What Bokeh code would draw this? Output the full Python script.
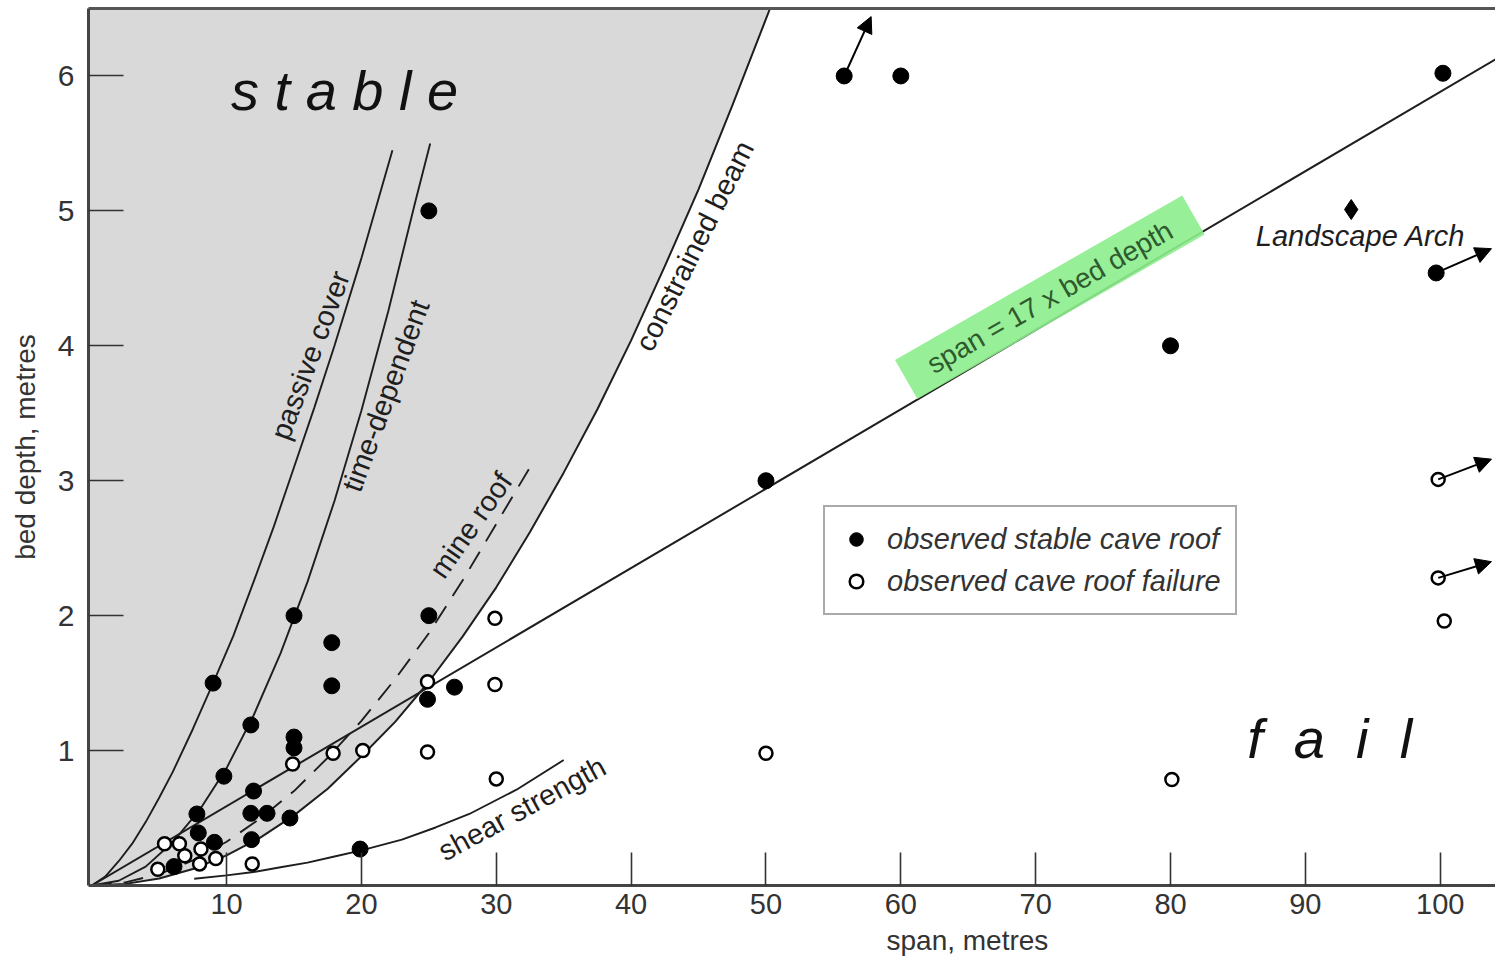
from bokeh.plotting import figure
from bokeh.models import (ColumnDataSource, Range1d, LinearAxis, FixedTicker, Label,
                          Legend, LegendItem, Arrow, NormalHead, Title)
from bokeh.embed import file_html
from bokeh.resources import INLINE

# ---------------- data ----------------
stable_span = [15, 9, 17.8, 17.8, 11.8, 15, 15, 9.8, 12, 7.8, 11.8, 13, 14.7, 7.9, 9.1,
               11.85, 6.1, 19.9, 25, 24.9, 26.9, 25, 50, 55.8, 60, 80, 100.2, 99.7]
stable_depth = [2.0, 1.5, 1.8, 1.48, 1.19, 1.1, 1.02, 0.81, 0.7, 0.53, 0.535, 0.535, 0.5, 0.39, 0.32,
                0.34, 0.14, 0.27, 2.0, 1.38, 1.47, 5.0, 3.0, 6.0, 6.0, 4.0, 6.02, 4.54]

fail_span = [24.9, 14.9, 17.9, 20.1, 24.9, 5.4, 6.5, 6.9, 8.1, 8.0, 9.2, 4.9, 11.9,
             29.9, 29.9, 30.0, 50, 80.1, 99.85, 99.85, 100.3]
fail_depth = [1.51, 0.9, 0.98, 1.0, 0.99, 0.31, 0.31, 0.22, 0.27, 0.16, 0.2, 0.12, 0.16,
              1.98, 1.49, 0.79, 0.98, 0.785, 3.01, 2.28, 1.96]

arch_span = [93.4]
arch_depth = [5.01]

# arrows (points whose values lie beyond the chart)
arrow_x0 = [55.8, 99.7, 99.85, 99.85]
arrow_y0 = [6.0, 4.54, 3.01, 2.28]
arrow_x1 = [57.8, 103.8, 103.8, 103.8]
arrow_y1 = [6.44, 4.72, 3.16, 2.4]

# theoretical curves
passive_x = [0, 1, 2, 3, 4, 5, 6, 7.5, 9, 10.5, 12, 13.5, 15, 16.5, 18, 20, 22.3]
passive_y = [0, 0.066, 0.18, 0.31, 0.47, 0.65, 0.84, 1.16, 1.5, 1.85, 2.25, 2.66, 3.1,
             3.54, 4.0, 4.65, 5.45]

timedep_x = [0, 2, 4, 6, 8, 10, 12, 14, 16, 18, 20, 22, 24, 25.1]
timedep_y = [0, 0.035, 0.14, 0.32, 0.56, 0.87, 1.26, 1.72, 2.25, 2.85, 3.52, 4.26, 5.07, 5.5]

mine_x = [0, 2.5, 5, 7.5, 10, 12.5, 15, 17.5, 20, 22.5, 25, 27.5, 30, 32.5]
mine_y = [0, 0.023, 0.085, 0.186, 0.324, 0.497, 0.70, 0.947, 1.22, 1.53, 1.87, 2.26, 2.68, 3.1]

beam_x = [0, 2.5, 5, 7.5, 10, 12.5, 15, 17.5, 20, 22.5, 25, 27.5, 30, 32.5, 35, 37.5,
          40, 42.5, 45, 47.5, 50.3]
beam_y = [0, 0.012, 0.052, 0.122, 0.223, 0.355, 0.52, 0.717, 0.958, 1.213, 1.51, 1.845,
          2.21, 2.62, 3.06, 3.53, 4.04, 4.59, 5.16, 5.78, 6.5]

shear_x = [7.6, 10, 12, 14, 16, 18, 20, 23, 25.5, 28, 31.5, 35]
shear_y = [0.05, 0.075, 0.1, 0.135, 0.17, 0.215, 0.26, 0.34, 0.43, 0.53, 0.71, 0.93]

span_ratio = 17
span_line_x = [0, 106]
span_line_y = [x / span_ratio for x in span_line_x]

x_ticks = [10, 20, 30, 40, 50, 60, 70, 80, 90, 100]
y_ticks = [1, 2, 3, 4, 5, 6]

FONT = "Liberation Sans"
INK = "#1e1e1e"

# ---------------- figure ----------------
p = figure(width=1495, height=962,
           x_range=Range1d(-0.24, 104.1), y_range=Range1d(0, 6.5),
           output_backend="svg", toolbar_location=None,
           min_border_left=88, min_border_right=0, min_border_top=8, min_border_bottom=77)
p.outline_line_color = None
p.grid.visible = False
p.background_fill_color = "white"
p.border_fill_color = "white"

# axes
for ax in (p.xaxis[0], p.yaxis[0]):
    ax.axis_line_width = 3
    ax.axis_line_color = "#444444"
    ax.major_tick_out = 0
    ax.minor_tick_line_color = None
    ax.major_tick_line_color = "#333333"
    ax.major_tick_line_width = 1.6
    ax.major_label_text_font = FONT
    ax.major_label_text_color = "#333333"

p.xaxis[0].ticker = FixedTicker(ticks=x_ticks)
p.xaxis[0].major_tick_in = 33
p.xaxis[0].major_label_standoff = 8
p.xaxis[0].major_label_text_font_size = "29px"
p.yaxis[0].ticker = FixedTicker(ticks=y_ticks)
p.yaxis[0].major_tick_in = 35
p.yaxis[0].major_label_standoff = 14
p.yaxis[0].major_label_text_font_size = "30px"
p.yaxis[0].axis_label = "bed depth, metres"
p.yaxis[0].axis_label_text_font = FONT
p.yaxis[0].axis_label_text_font_style = "normal"
p.yaxis[0].axis_label_text_font_size = "28px"
p.yaxis[0].axis_label_text_color = "#333333"
p.yaxis[0].axis_label_standoff = 14

top = LinearAxis(ticker=FixedTicker(ticks=[]), axis_line_width=3, axis_line_color="#555555",
                 major_label_text_font_size="0px", major_label_standoff=0,
                 major_tick_in=0, major_tick_out=0, minor_tick_line_color=None)
p.add_layout(top, "above")

p.add_layout(Title(text="span, metres", align="left", offset=798, text_font=FONT,
                   text_font_size="28px", text_font_style="normal", text_color="#333333",
                   standoff=12), "below")

# shaded stable region (left of the constrained-beam curve)
shade_x = beam_x + [51.0, -1.0, -1.0]
shade_y = beam_y + [6.7, 6.7, 0.0]
p.patch(shade_x, shade_y, fill_color="#d9d9d9", line_color=None)

# curves
p.line(passive_x, passive_y, line_color=INK, line_width=1.9)
p.line(timedep_x, timedep_y, line_color=INK, line_width=1.9)
p.line(mine_x, mine_y, line_color=INK, line_width=1.9, line_dash="20 12")
p.line(beam_x, beam_y, line_color=INK, line_width=2.0)
p.line(shear_x, shear_y, line_color=INK, line_width=1.9)
p.line(span_line_x, span_line_y, line_color=INK, line_width=2.0)

# green label box for the 17x line
p.rect(x=[71.05], y=[4.36], width=331, height=45, width_units="screen", height_units="screen",
       angle=0.52, fill_color="#8ced8c", fill_alpha=0.9, line_color=None)

# arrows
arrows = ColumnDataSource(dict(x0=arrow_x0, y0=arrow_y0, x1=arrow_x1, y1=arrow_y1))
p.add_layout(Arrow(source=arrows, x_start="x0", y_start="y0", x_end="x1", y_end="y1",
                   line_width=2, line_color="black",
                   end=NormalHead(size=16, fill_color="black", line_color="black")))

# points
r_stable = p.scatter(stable_span, stable_depth, marker="circle", size=16,
                     fill_color="black", line_color="black")
r_fail = p.scatter(fail_span, fail_depth, marker="circle", size=13,
                   fill_color="white", line_color="black", line_width=2.5)
p.scatter(arch_span, arch_depth, marker="diamond", size=20, fill_color="black", line_color="black")

# labels
def lab(x, y, text, size, angle=0.0, style="normal", color=INK):
    p.add_layout(Label(x=x, y=y, text=text, angle=angle, text_font=FONT,
                       text_font_size=size, text_font_style=style, text_color=color,
                       text_align="center", text_baseline="middle"))

NB = "\u00a0"
lab(18.75, 5.89, NB.join("stable"), "56px", style="italic", color="#111111")
lab(91.8, 1.09, (NB * 2).join("fail"), "56px", style="italic", color="#111111")
lab(16.2, 3.93, "passive cover", "29px", angle=1.215)
lab(21.8, 3.63, "time-dependent", "29px", angle=1.217)
lab(28.1, 2.67, "mine roof", "29px", angle=0.96)
lab(44.7, 4.74, "constrained beam", "29px", angle=1.108)
lab(31.9, 0.57, "shear strength", "29px", angle=0.50)
lab(94.1, 4.815, "Landscape Arch", "29px", style="italic")
lab(71.05, 4.36, "span = 17 x bed depth", "28px", angle=0.52, color="#2f5a2f")

# legend
legend = Legend(items=[LegendItem(label="observed stable cave roof", renderers=[r_stable]),
                       LegendItem(label="observed cave roof failure", renderers=[r_fail])],
                location=(735, 270), label_text_font=FONT, label_text_font_style="italic",
                label_text_font_size="29px", label_text_color="#333333",
                border_line_color="#555555", border_line_width=2, background_fill_alpha=1.0,
                padding=14, spacing=6, glyph_width=34, glyph_height=36, label_height=36,
                label_standoff=14, margin=0)
p.add_layout(legend)

open("out.html", "w").write(file_html(p, INLINE))
